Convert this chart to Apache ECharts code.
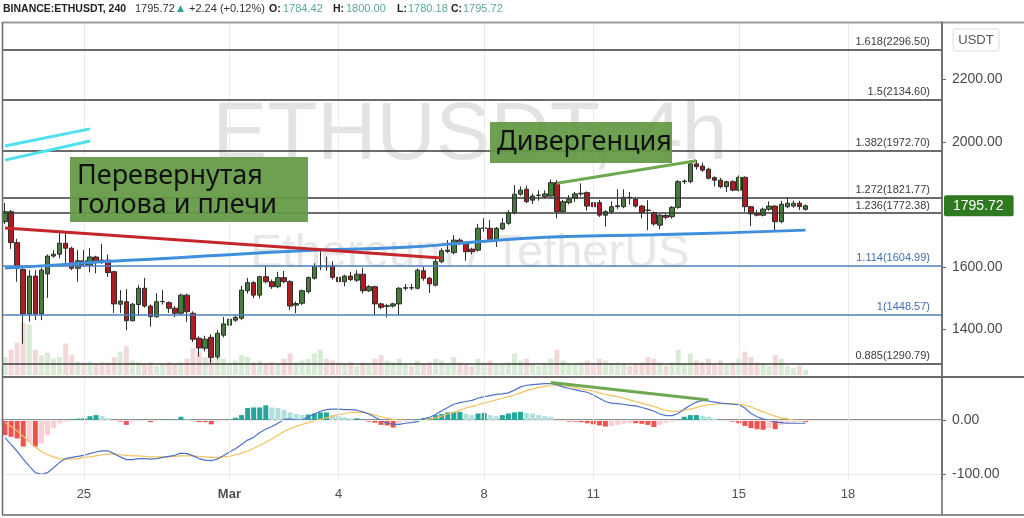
<!DOCTYPE html>
<html>
<head>
<meta charset="utf-8">
<script src="https://cdn.jsdelivr.net/npm/echarts@6/dist/echarts.min.js"></script>
<style>
  html, body { margin: 0; padding: 0; background: #fff; }
  #chart { width: 1024px; height: 518px; }
</style>
</head>
<body>
<div id="chart"></div>
<script>
  // ETHUSDT 4h candles, 22 Feb 20:00 .. 16 Mar 20:00
  var opens = [
    1745, 1777, 1678, 1592, 1450, 1571, 1450, 1578, 1635, 1641,
    1676, 1660, 1596, 1620, 1606, 1632, 1622, 1622, 1585, 1481,
    1489, 1428, 1480, 1532, 1475, 1441, 1489, 1486, 1468, 1452,
    1510, 1452, 1372, 1340, 1375, 1313, 1382, 1414, 1430, 1436,
    1524, 1550, 1510, 1569, 1553, 1537, 1566, 1553, 1478, 1484,
    1521, 1564, 1601, 1603, 1603, 1567, 1553, 1571, 1558, 1577,
    1524, 1537, 1482, 1474, 1475, 1482, 1532, 1534, 1532, 1588,
    1564, 1542, 1617, 1650, 1646, 1686, 1676, 1657, 1654, 1724,
    1724, 1689, 1722, 1740, 1774, 1833, 1849, 1814, 1829, 1825,
    1827, 1870, 1777, 1806, 1820, 1834, 1838, 1806, 1806, 1766,
    1777, 1793, 1793, 1823, 1817, 1795, 1782, 1774, 1734, 1765,
    1761, 1791, 1873, 1873, 1930, 1923, 1913, 1886, 1878, 1857,
    1873, 1846, 1887, 1793, 1772, 1766, 1785, 1795, 1745, 1793,
    1795, 1804, 1784.42
  ];
  var closes = [
    1777, 1678, 1596, 1450, 1571, 1450, 1590, 1635, 1641, 1676,
    1660, 1596, 1620, 1606, 1632, 1617, 1620, 1582, 1482, 1491,
    1428, 1481, 1532, 1475, 1441, 1489, 1490, 1468, 1452, 1510,
    1457, 1369, 1341, 1369, 1311, 1388, 1418, 1433, 1439, 1526,
    1550, 1510, 1569, 1553, 1537, 1566, 1553, 1475, 1483, 1524,
    1566, 1603, 1603, 1601, 1567, 1553, 1571, 1560, 1577, 1524,
    1537, 1482, 1471, 1476, 1482, 1532, 1534, 1533, 1590, 1564,
    1546, 1617, 1652, 1654, 1686, 1676, 1649, 1649, 1724, 1725,
    1689, 1724, 1740, 1774, 1833, 1846, 1809, 1827, 1830, 1834,
    1870, 1777, 1809, 1817, 1834, 1836, 1795, 1793, 1766, 1777,
    1793, 1796, 1823, 1822, 1795, 1774, 1781, 1738, 1766, 1759,
    1791, 1873, 1875, 1930, 1921, 1910, 1884, 1878, 1857, 1873,
    1846, 1887, 1793, 1770, 1766, 1785, 1795, 1745, 1801, 1804,
    1804, 1793.48, 1795.72
  ];
  var lows = [
    1738, 1658, 1553, 1354, 1425, 1430, 1430, 1501, 1630, 1628,
    1612, 1590, 1553, 1600, 1583, 1580, 1610, 1568, 1453, 1453,
    1398, 1426, 1445, 1470, 1409, 1438, 1480, 1453, 1440, 1448,
    1425, 1360, 1313, 1330, 1293, 1305, 1375, 1408, 1425, 1430,
    1515, 1500, 1500, 1548, 1530, 1532, 1548, 1462, 1452, 1478,
    1515, 1560, 1590, 1588, 1560, 1548, 1538, 1555, 1552, 1515,
    1520, 1446, 1465, 1439, 1470, 1446, 1525, 1526, 1528, 1556,
    1517, 1538, 1612, 1645, 1640, 1670, 1620, 1640, 1649, 1713,
    1685, 1664, 1718, 1735, 1768, 1828, 1805, 1802, 1812, 1820,
    1822, 1756, 1772, 1800, 1808, 1826, 1780, 1788, 1760, 1729,
    1770, 1785, 1788, 1800, 1790, 1756, 1718, 1732, 1721, 1752,
    1755, 1786, 1865, 1868, 1912, 1905, 1880, 1858, 1852, 1840,
    1842, 1842, 1777, 1731, 1762, 1762, 1780, 1713, 1740, 1788,
    1790, 1782, 1780.18
  ];
  var highs = [
    1805, 1782, 1690, 1596, 1590, 1590, 1598, 1640, 1654, 1709,
    1709, 1665, 1654, 1654, 1660, 1636, 1674, 1640, 1588, 1526,
    1529, 1485, 1542, 1565, 1480, 1516, 1526, 1490, 1475, 1515,
    1515, 1458, 1378, 1380, 1385, 1398, 1440, 1457, 1445, 1540,
    1565, 1555, 1572, 1603, 1560, 1585, 1587, 1558, 1490, 1528,
    1570, 1612, 1654, 1633, 1618, 1632, 1575, 1585, 1590, 1597,
    1542, 1540, 1486, 1482, 1486, 1536, 1545, 1546, 1595, 1600,
    1568, 1633, 1660, 1686, 1702, 1692, 1680, 1662, 1738, 1756,
    1750, 1728, 1756, 1782, 1862, 1858, 1860, 1835, 1845, 1845,
    1880, 1878, 1815, 1830, 1840, 1868, 1842, 1812, 1815, 1782,
    1810, 1849, 1849, 1840, 1822, 1798, 1814, 1778, 1770, 1772,
    1795, 1878, 1880, 1942, 1942, 1934, 1918, 1890, 1885, 1876,
    1878, 1893, 1890, 1796, 1782, 1790, 1810, 1798, 1812, 1822,
    1812, 1812, 1800
  ];
  var volumes = [
    20, 28, 36, 58, 56, 28, 22, 25, 18, 20,
    35, 22, 15, 14, 15, 12, 14, 14, 20, 26,
    32, 16, 14, 12, 14, 10, 12, 14, 12, 14,
    18, 30, 26, 20, 28, 22, 18, 14, 16, 22,
    20, 14, 16, 12, 14, 12, 18, 24, 14, 16,
    18, 24, 28, 18, 16, 14, 12, 14, 10, 14,
    12, 18, 22, 16, 14, 18, 12, 10, 16, 12,
    14, 18, 16, 12, 20, 14, 12, 10, 18, 14,
    16, 12, 12, 14, 24, 16, 18, 12, 10, 12,
    18, 28, 16, 12, 12, 14, 16, 12, 18, 16,
    12, 14, 12, 10, 12, 14, 20, 18, 14, 10,
    14, 28, 12, 24, 16, 14, 18, 12, 16, 12,
    14, 18, 26, 20, 14, 12, 10, 22, 18, 10,
    8, 10, 6
  ];
  var macdLine = [
    -33, -45, -58, -72, -85, -97, -100, -97, -88, -78,
    -71, -69, -67, -65, -62, -59, -57, -57, -62, -68,
    -73, -73, -71, -71, -72, -71, -69, -67, -65, -61,
    -62, -66, -71, -74, -75, -72, -66, -59, -53, -45,
    -37, -32, -23, -17, -12, -6, 1, 2, 0, 0,
    6, 11, 16, 19, 20, 20, 19, 19, 18, 15,
    11, 5, -1, -6, -8, -8, -6, -5, -3, 2,
    5, 10, 17, 23, 29, 32, 34, 36, 40, 43,
    45, 47, 48, 50, 55, 61, 64, 65, 66, 67,
    67, 65, 61, 58, 56, 53, 51, 46, 40, 34,
    31, 30, 29, 27, 26, 23, 20, 16, 11, 8,
    8, 12, 20, 27, 33, 36, 35, 33, 31, 30,
    29, 28, 22, 12, 6, 2, -1, -4, -5, -6,
    -6, -6, -6
  ];
  var signalLine = [
    -5, -12, -20, -30, -40, -50, -58, -64, -68, -71,
    -72, -72, -71, -69, -68, -66, -64, -63, -63, -64,
    -65, -66, -66, -67, -68, -68, -68, -68, -67, -66,
    -66, -66, -67, -68, -69, -69, -68, -67, -64, -61,
    -57, -52, -47, -41, -35, -28, -21, -16, -12, -8,
    -5, -2, 1, 4, 7, 10, 12, 14, 14, 14,
    12, 9, 6, 3, 1, 0, -1, -1, -1, 0,
    2, 4, 7, 11, 14, 18, 22, 25, 28, 31,
    34, 37, 40, 43, 46, 50, 54, 57, 60, 62,
    63, 63, 63, 62, 60, 57, 55, 53, 50, 47,
    45, 43, 40, 37, 34, 31, 28, 25, 21, 18,
    16, 16, 18, 20, 23, 26, 28, 29, 30, 30,
    30, 29, 27, 24, 19, 15, 11, 7, 4, 2,
    0, -1, -2
  ];
  var macdHist = [
    -28, -31, -34, -49, -40, -49, -43, -28, -15, -6,
    -3, 1, 2.5, 3, 7, 9, 7, 3, -1, -3,
    -9, -3, -2, -1, -4, 0, 1, 1, 0, 6,
    1, 0, -4, -4, -8, -3, 0, 1, 4, 9,
    22, 23, 23, 27, 23, 22, 19, 14, 11, 9,
    10, 12, 14, 14, 9, 7, 5, 3, 3, 0,
    -3, -5, -9, -10, -14, -6, -3, 0, 2, 3,
    4, 9, 11, 14, 15, 15, 11, 9, 12, 13,
    9, 7, 9, 12, 14, 15, 13, 12, 9, 7,
    6, 0, -2, -3, -3, -4, -6, -8, -10, -12,
    -11, -9, -7, -6, -6, -7, -9, -13, -9, -5,
    -3, 1, 6, 9, 9, 8, 6, 3, 0, -2,
    -3, -6, -11, -15, -17, -18, -15, -17, -9, -6,
    -5, -3, -4
  ];
  // moving average read at a few candles
  var maIdx = [0, 8, 16, 24, 33, 41, 49, 66, 78, 89, 100, 107, 120, 132];
  var maVal = [1597, 1606, 1617, 1625, 1635, 1644, 1652, 1663, 1681, 1695, 1701, 1703, 1710, 1718];

  var fibRatios = ['1.618', '1.5', '1.382', '1.272', '1.236', '1.114', '1', '0.885'];
  var fibPrices = [2296.50, 2134.60, 1972.70, 1821.77, 1772.38, 1604.99, 1448.57, 1290.79];

  var tickIdx = [13, 37, 55, 79, 97, 121, 139];
  var tickLabels = ['25', 'Mar', '4', '8', '11', '15', '18'];
  var priceTicks = [1400, 1600, 2000, 2200];
  var macdTicks = [-100, 0];

  // drawn lines: [candle index, value]
  var redTrend = [[0, 1725], [72, 1629]];
  var greenTrendPrice = [[91, 1868], [114, 1940]];
  var greenTrendMacd = [[90, 69], [116, 37]];
  var cyanUpper = [[0, 1987], [14, 2042]];
  var cyanLower = [[0, 1942], [14, 2003]];

  var lastPrice = 1795.72;
  var slotCount = 155;

  var slots = [];
  for (var s = 0; s < slotCount; s++) slots.push(String(s));

  var candleData = opens.map(function (o, i) {
    return [o, closes[i], lows[i], highs[i]];
  });
  var volData = volumes.map(function (v, i) {
    return { value: v, itemStyle: { color: closes[i] >= opens[i] ? '#d8ebd5' : '#f2d8d8' } };
  });
  var histData = macdHist.map(function (v, i) {
    var prev = i > 0 ? macdHist[i - 1] : v;
    var c;
    if (v >= 0) c = v >= prev ? '#26a69a' : '#b2dfdb';
    else c = v <= prev ? '#ef5350' : '#ffcdd2';
    return { value: v, itemStyle: { color: c } };
  });
  var maData = maIdx.map(function (ix, k) { return [ix, maVal[k]]; });

  var isTick = function (index) { return tickIdx.indexOf(index) >= 0; };
  var vLines = tickIdx.map(function (ix) { return { xAxis: String(ix) }; });

  var fibLines = fibPrices.map(function (p, k) {
    var blue = fibRatios[k] === '1.114' || fibRatios[k] === '1';
    return {
      yAxis: p,
      lineStyle: { color: blue ? '#4d7fc2' : '#3b3b3b', width: 1.6, type: 'solid' },
      label: { formatter: fibRatios[k] + '(' + p.toFixed(2) + ')', color: blue ? '#4170b3' : '#3b3b3b' }
    };
  });

  function drawnLine(data, color, xi) {
    return {
      type: 'line', xAxisIndex: xi, yAxisIndex: xi, data: data, symbol: 'none', z: 7, silent: true,
      lineStyle: { color: color, width: 3 }
    };
  }

  function hdr(text, x, color, font) {
    return { type: 'text', z: 50, silent: true, style: { text: text, x: x, y: 9, fill: color, font: font, textVerticalAlign: 'middle' } };
  }
  var fVal = '11px "Liberation Sans", sans-serif';
  var fKey = 'bold 10.5px "Liberation Sans", sans-serif';
  var teal = '#5aa99a';

  var chart = echarts.init(document.getElementById('chart'));

  var option = {
    animation: false,
    backgroundColor: '#fff',
    grid: [
      { left: 2, right: 82, top: 22, height: 353 },
      { left: 2, right: 82, top: 285, height: 90 },
      { left: 2, right: 82, top: 378, height: 102 }
    ],
    xAxis: [
      { type: 'category', gridIndex: 0, data: slots, boundaryGap: true, show: false },
      { type: 'category', gridIndex: 1, data: slots, boundaryGap: true, show: false },
      {
        type: 'category', gridIndex: 2, data: slots, boundaryGap: true,
        axisLine: { show: true, lineStyle: { color: '#6b6b6b', width: 1.5 } },
        axisTick: { show: true, alignWithLabel: true, interval: isTick, length: 5, lineStyle: { color: '#6b6b6b' } },
        axisLabel: {
          interval: isTick, color: '#505050', fontSize: 13, margin: 8,
          formatter: function (v) {
            var k = tickIdx.indexOf(Number(v));
            if (k < 0) return '';
            return tickLabels[k] === 'Mar' ? '{b|Mar}' : tickLabels[k];
          },
          rich: { b: { fontWeight: 'bold', fontSize: 13, color: '#505050' } }
        },
        splitLine: { show: false }
      }
    ],
    yAxis: [
      {
        type: 'value', gridIndex: 0, position: 'right', min: 1254.4, max: 2384,
        axisLine: { show: true, lineStyle: { color: '#6b6b6b', width: 1.5 } },
        axisTick: { show: true, length: 4, customValues: priceTicks, lineStyle: { color: '#6b6b6b' } },
        axisLabel: {
          customValues: priceTicks, color: '#4a4a4a', fontSize: 14, margin: 10,
          formatter: function (v) { return v.toFixed(2); }
        },
        splitLine: { show: false }
      },
      { type: 'value', gridIndex: 1, min: 0, max: 100, show: false },
      {
        type: 'value', gridIndex: 2, position: 'right', min: -110.5, max: 77.3,
        axisLine: { show: true, lineStyle: { color: '#6b6b6b', width: 1.5 } },
        axisTick: { show: true, length: 4, customValues: macdTicks, lineStyle: { color: '#6b6b6b' } },
        axisLabel: {
          customValues: macdTicks, color: '#4a4a4a', fontSize: 14, margin: 10,
          formatter: function (v) { return v.toFixed(2); }
        },
        splitLine: { show: false }
      }
    ],
    series: [
      {
        // vertical grid lines in price pane
        type: 'line', xAxisIndex: 0, yAxisIndex: 0, data: [], z: 1, silent: true,
        markLine: {
          silent: true, symbol: ['none', 'none'], label: { show: false },
          lineStyle: { color: '#ebebeb', width: 1, type: 'solid' },
          data: vLines
        }
      },
      {
        type: 'bar', xAxisIndex: 1, yAxisIndex: 1, data: volData, barWidth: 5, z: 2, silent: true
      },
      {
        type: 'candlestick', xAxisIndex: 0, yAxisIndex: 0, data: candleData, barWidth: 5, z: 4,
        itemStyle: {
          color: '#467c3a', color0: '#ae1b20',
          borderColor: '#2e2e2e', borderColor0: '#2e2e2e', borderWidth: 1
        },
        markLine: {
          silent: true, symbol: ['none', 'none'],
          data: [{
            yAxis: lastPrice,
            lineStyle: { color: 'rgba(0,0,0,0)', width: 0 },
            label: {
              show: true, position: 'end', distance: 2,
              formatter: lastPrice.toFixed(2),
              backgroundColor: '#2f7a20', color: '#fff', fontSize: 14,
              padding: [4, 10, 3, 9], borderRadius: 2
            }
          }]
        }
      },
      {
        type: 'line', xAxisIndex: 0, yAxisIndex: 0, data: maData, smooth: true,
        symbol: 'none', z: 5, silent: true,
        lineStyle: { color: '#3f8fdc', width: 3 }
      },
      {
        // fibonacci levels
        type: 'line', xAxisIndex: 0, yAxisIndex: 0, data: [], z: 6, silent: true,
        markLine: {
          silent: true, symbol: ['none', 'none'],
          label: { show: true, position: 'insideEndTop', fontSize: 11, distance: [12, 2] },
          data: fibLines
        }
      },
      drawnLine(redTrend, '#c4262c', 0),
      drawnLine(greenTrendPrice, '#6ea84f', 0),
      drawnLine(cyanUpper, '#4fe0ee', 0),
      drawnLine(cyanLower, '#4fe0ee', 0),
      {
        type: 'bar', xAxisIndex: 2, yAxisIndex: 2, data: histData, barWidth: 5, z: 2, silent: true,
        markLine: {
          silent: true, symbol: ['none', 'none'], label: { show: false },
          lineStyle: { color: '#ececec', width: 1, type: 'solid' },
          data: macdTicks.map(function (v) { return { yAxis: v }; }).concat(vLines)
        }
      },
      {
        type: 'line', xAxisIndex: 2, yAxisIndex: 2, data: macdLine, symbol: 'none', z: 4, silent: true,
        lineStyle: { color: '#4f72c8', width: 1.2 }
      },
      {
        type: 'line', xAxisIndex: 2, yAxisIndex: 2, data: signalLine, symbol: 'none', z: 3, silent: true,
        lineStyle: { color: '#f2c35e', width: 1.2 }
      },
      drawnLine(greenTrendMacd, '#6ea84f', 2)
    ],
    graphic: [
      // watermark
      { type: 'text', z: 0, silent: true, style: { text: 'ETHUSDT, 4h', x: 470, y: 136, fill: '#e3e3e3', font: '82px "Liberation Sans", sans-serif', textAlign: 'center', textVerticalAlign: 'middle' } },
      { type: 'text', z: 0, silent: true, style: { text: 'Ethereum / TetherUS', x: 470, y: 254, fill: '#e7e7e7', font: '47px "Liberation Sans", sans-serif', textAlign: 'center', textVerticalAlign: 'middle' } },
      // header
      hdr('BINANCE:ETHUSDT, 240', 3, '#222', 'bold 10.5px "Liberation Sans", sans-serif'),
      hdr('1795.72', 135, '#333', fVal),
      hdr('▲', 177, '#26a69a', '9px "DejaVu Sans", sans-serif'),
      hdr('+2.24 (+0.12%)', 189, '#333', fVal),
      hdr('O:', 269, '#222', fKey), hdr('1784.42', 283, teal, fVal),
      hdr('H:', 333, '#222', fKey), hdr('1800.00', 346, teal, fVal),
      hdr('L:', 397, '#222', fKey), hdr('1780.18', 408, teal, fVal),
      hdr('C:', 451, '#222', fKey), hdr('1795.72', 463, teal, fVal),
      // frame
      { type: 'line', z: 40, silent: true, shape: { x1: 2, y1: 22.5, x2: 1024, y2: 22.5 }, style: { stroke: '#9a9a9a', lineWidth: 2 } },
      { type: 'line', z: 40, silent: true, shape: { x1: 2.5, y1: 22, x2: 2.5, y2: 515 }, style: { stroke: '#6b6b6b', lineWidth: 1.5 } },
      { type: 'line', z: 40, silent: true, shape: { x1: 2, y1: 377, x2: 1024, y2: 377 }, style: { stroke: '#6b6b6b', lineWidth: 2 } },
      { type: 'line', z: 40, silent: true, shape: { x1: 2, y1: 515, x2: 1024, y2: 515 }, style: { stroke: '#6b6b6b', lineWidth: 1.5 } },
      { type: 'line', z: 40, silent: true, shape: { x1: 942, y1: 22, x2: 942, y2: 515 }, style: { stroke: '#6b6b6b', lineWidth: 1.5 } },
      // USDT button
      { type: 'rect', z: 40, silent: true, shape: { x: 953, y: 29, width: 46, height: 22, r: 3 }, style: { fill: '#fff', stroke: '#dcdcdc', lineWidth: 1 } },
      { type: 'text', z: 41, silent: true, style: { text: 'USDT', x: 976, y: 40, fill: '#555', font: '13px "Liberation Sans", sans-serif', textAlign: 'center', textVerticalAlign: 'middle' } },
      // annotation boxes
      { type: 'rect', z: 60, silent: true, shape: { x: 70, y: 157, width: 238, height: 65 }, style: { fill: 'rgba(98,154,68,0.93)' } },
      { type: 'text', z: 61, silent: true, style: { text: 'Перевернутая', x: 77, y: 176, fill: '#111', font: '27px "Noto Sans", sans-serif', textVerticalAlign: 'middle' } },
      { type: 'text', z: 61, silent: true, style: { text: 'голова и плечи', x: 77, y: 205, fill: '#111', font: '27px "Noto Sans", sans-serif', textVerticalAlign: 'middle' } },
      { type: 'rect', z: 60, silent: true, shape: { x: 490, y: 122, width: 182, height: 41 }, style: { fill: 'rgba(98,154,68,0.93)' } },
      { type: 'text', z: 61, silent: true, style: { text: 'Дивергенция', x: 497, y: 142, fill: '#111', font: '27px "Noto Sans", sans-serif', textVerticalAlign: 'middle' } }
    ]
  };

  chart.setOption(option);
</script>
</body>
</html>
